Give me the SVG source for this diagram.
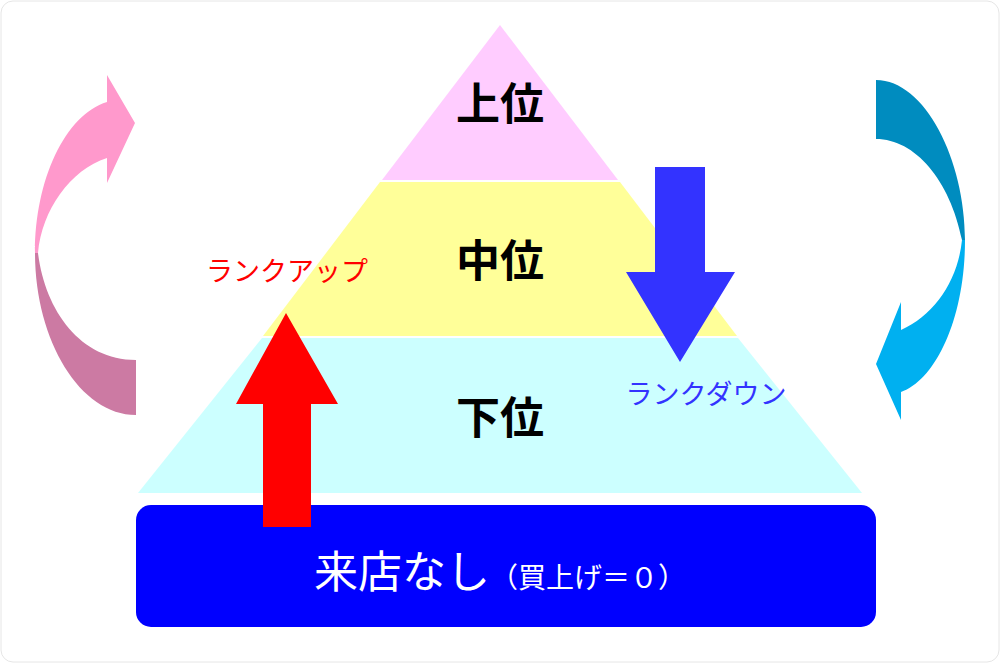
<svg xmlns="http://www.w3.org/2000/svg" width="1000" height="663" viewBox="0 0 1000 663">
<style>
.lv{font-family:"Noto Sans CJK JP","Noto Sans CJK SC",sans-serif;font-weight:bold;font-size:44px;fill:#000;text-anchor:middle}
.lb{font-family:"Noto Sans CJK JP",sans-serif;font-size:27px}
</style>
<rect x="1" y="1" width="998" height="661" rx="12" fill="#fff" stroke="#e6e6e6"/>
<g id="pyramid">
<polygon points="500,25 618,180 382,180" fill="#FFCCFF"/>
<polygon points="380,182 620,182 737,336 263,336" fill="#FFFF99"/>
<polygon points="262,338 738,338 862,493 138,493" fill="#CCFFFF"/>
<text class="lv" x="500" y="120">上位</text>
<text class="lv" x="500" y="277">中位</text>
<text class="lv" x="500" y="434">下位</text>
</g>
<g id="base">
<rect x="136" y="505" width="740" height="122" rx="15" fill="#0000FF"/>
<text x="500" y="588" text-anchor="middle" fill="#fff" font-family="'Noto Sans CJK JP',sans-serif"><tspan font-size="44">来店なし</tspan><tspan font-size="28">（買上げ＝０）</tspan></text>
</g>
<g id="connectors">
<path d="M136,360 C80,360 45,310 38,253 L35,253 C35,340 80,415 136,415 Z" fill="#CC7AA3"/>
<path d="M35,253 C35,180 65,115 107,102 L107,75 L135,123 L107,183 L107,158 C70,170 42,210 38,253 Z" fill="#FF99CC"/>
<path d="M876,80 C925,80 965,160 965,240 L962,240 C950,180 915,139 876,139 Z" fill="#008CBF"/>
<path d="M965,240 C965,320 935,380 901,392 L901,420 L876,364 L901,302 L901,330 C935,315 958,280 962,240 Z" fill="#00B0F0"/>
<polygon points="263,527 311,527 311,404 338,404 286,313 236,404 263,404" fill="#FF0000"/>
<polygon points="655,167 705,167 705,272 735,272 680,362 626,272 655,272" fill="#3333FF"/>
</g>
<text class="lb" x="287" y="281" text-anchor="middle" fill="#FF0000">ランクアップ</text>
<text class="lb" x="706" y="404" text-anchor="middle" fill="#3333FF">ランクダウン</text>
</svg>
